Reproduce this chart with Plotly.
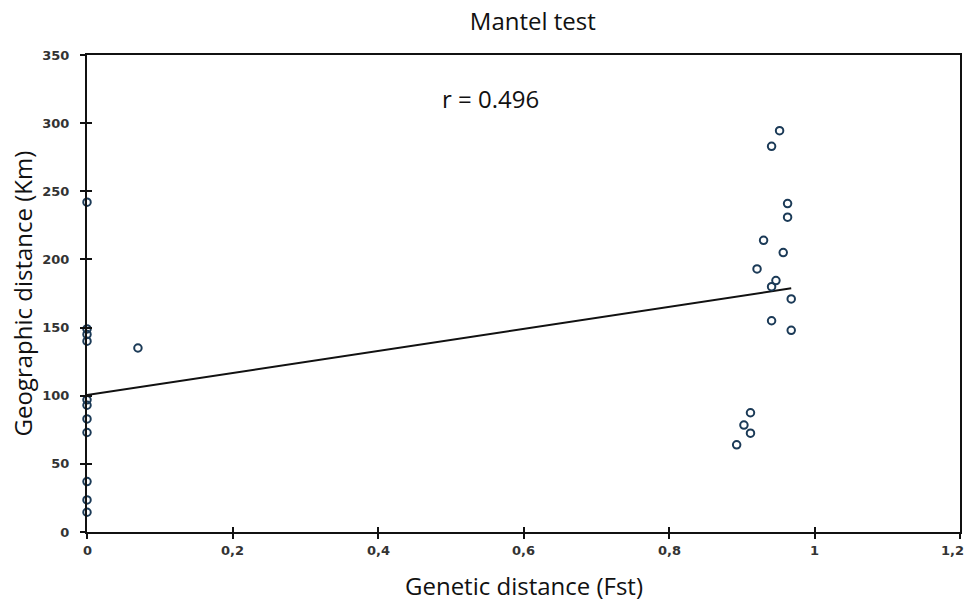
import numpy as np
import plotly.graph_objects as go

# Genetic distance (Fst) and geographic distance (Km) of each pair
fst = [0, 0, 0, 0, 0, 0, 0, 0, 0, 0, 0, 0.07,
       0.952, 0.941, 0.963, 0.963, 0.930, 0.957, 0.921, 0.947, 0.941,
       0.968, 0.941, 0.968, 0.912, 0.903, 0.912, 0.893]
geo_km = [242, 149, 145, 140, 97, 93, 83, 73, 37, 23.5, 14.5, 135,
          294.5, 283, 241, 231, 214, 205, 193, 184.5, 180,
          171, 155, 148, 87.5, 78.5, 72.5, 64]

x_ticks = [0, 0.2, 0.4, 0.6, 0.8, 1, 1.2]
x_ticktext = ["0", "0,2", "0,4", "0,6", "0,8", "1", "1,2"]
y_ticks = [0, 50, 100, 150, 200, 250, 300, 350]

slope, intercept = np.polyfit(fst, geo_km, 1)
fit_x = [0, max(fst)]
fit_y = [intercept + slope * v for v in fit_x]

fig = go.Figure()
fig.add_trace(go.Scatter(x=fit_x, y=fit_y, mode="lines",
                         line=dict(color="#111111", width=2), hoverinfo="skip"))
fig.add_trace(go.Scatter(x=fst, y=geo_km, mode="markers",
                         marker=dict(symbol="circle-open", size=7.5, color="#1b3a57",
                                     line=dict(width=2, color="#1b3a57")),
                         cliponaxis=False))
# invisible trace on overlay axes to draw inward tick marks
fig.add_trace(go.Scatter(x=[0.5], y=[-100], xaxis="x2", yaxis="y2", mode="markers",
                         marker=dict(opacity=0), hoverinfo="skip"))

tick_font = dict(family="DejaVu Sans", size=13, color="#333333", weight="bold")
title_font = dict(family="Open Sans", size=24, color="#111111")

annotations = [
    dict(text="r = 0.496", x=0.554, y=318, xref="x", yref="y",
         showarrow=False, font=title_font),
    dict(text="Genetic distance (Fst)", x=0.5, y=0, xref="paper", yref="paper",
         yshift=-53, yanchor="middle", showarrow=False, font=title_font),
    dict(text="Geographic distance (Km)", x=0, y=0.5, xref="paper", yref="paper",
         xshift=-65, xanchor="center", yanchor="middle", textangle=-90,
         showarrow=False, font=title_font),
]
# x tick labels drawn as annotations so that the last one ("1,2") can sit at the edge
for v, t in zip(x_ticks, x_ticktext):
    if v == x_ticks[-1]:
        annotations.append(dict(text=t, x=v, y=0, xref="x", yref="paper", yshift=-18,
                                xanchor="right", xshift=6, yanchor="middle",
                                showarrow=False, font=tick_font))
    else:
        annotations.append(dict(text=t, x=v, y=0, xref="x", yref="paper", yshift=-18,
                                yanchor="middle", showarrow=False, font=tick_font))

fig.update_layout(
    width=967, height=603,
    paper_bgcolor="white", plot_bgcolor="white",
    showlegend=False,
    margin=dict(l=87, r=7, t=55, b=71, autoexpand=False),
    title=dict(text="Mantel test", x=0.551, xanchor="center", y=0.9635, yanchor="middle",
               font=title_font),
    xaxis=dict(range=[0, 1.2], tickvals=x_ticks, showticklabels=False,
               showgrid=False, zeroline=False, showline=True, linecolor="#111111",
               linewidth=2, mirror=True, ticks="outside", ticklen=5, tickwidth=1.5,
               tickcolor="#111111", automargin=False),
    yaxis=dict(range=[0, 350], tickvals=y_ticks,
               showgrid=False, zeroline=False, showline=True, linecolor="#111111",
               linewidth=2, mirror=True, ticks="outside", ticklen=5, tickwidth=1.5,
               tickcolor="#111111", tickfont=tick_font, automargin=False,
               ticklabelstandoff=8),
    xaxis2=dict(range=[0, 1.2], tickvals=x_ticks, overlaying="x", anchor="y2",
                side="bottom", showticklabels=False, showgrid=False, zeroline=False,
                ticks="inside", ticklen=5, tickwidth=1.5, tickcolor="#111111"),
    yaxis2=dict(range=[0, 350], tickvals=y_ticks, overlaying="y", anchor="x2",
                side="left", showticklabels=False, showgrid=False, zeroline=False,
                ticks="inside", ticklen=5, tickwidth=1.5, tickcolor="#111111"),
    annotations=annotations,
)

fig.write_html("out.html", config={"displayModeBar": False},
               post_script="document.body.style.margin='0';document.body.style.overflow='hidden';")
